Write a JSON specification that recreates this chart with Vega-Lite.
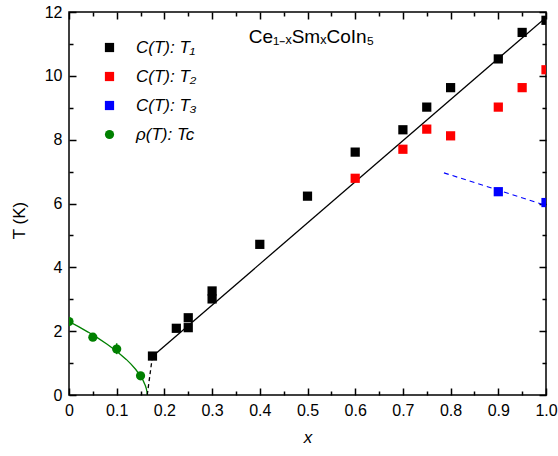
{
  "$schema": "https://vega.github.io/schema/vega-lite/v6.json",
  "width": 477,
  "height": 383,
  "autosize": {"type": "none"},
  "padding": {"left": 69, "top": 12, "right": 12, "bottom": 61},
  "title": {"text": "Ce₁₋ₓSmₓCoIn₅", "font": "Liberation Sans", "fontSize": 19, "fontWeight": "normal", "color": "black", "anchor": "middle", "dx": 4, "dy": 62, "baseline": "alphabetic"},
  "config": {
    "view": {"stroke": "black", "strokeWidth": 1.5},
    "font": "Liberation Sans",
    "axis": {"domain": false, "grid": false, "tickColor": "black", "tickWidth": 1.5, "labelFont": "Liberation Sans", "labelFontSize": 16, "labelColor": "black", "titleFont": "Liberation Sans", "titleFontSize": 17, "titleColor": "black", "titleFontWeight": "normal", "labelFlush": false, "labelOverlap": false}
  },
  "datasets": {
    "pts": [
      {"x": 0.175, "y": 1.22, "series": "C(T): T₁"},
      {"x": 0.225, "y": 2.09, "series": "C(T): T₁"},
      {"x": 0.25, "y": 2.42, "series": "C(T): T₁"},
      {"x": 0.25, "y": 2.11, "series": "C(T): T₁"},
      {"x": 0.3, "y": 3.26, "series": "C(T): T₁"},
      {"x": 0.3, "y": 3.01, "series": "C(T): T₁"},
      {"x": 0.4, "y": 4.72, "series": "C(T): T₁"},
      {"x": 0.5, "y": 6.23, "series": "C(T): T₁"},
      {"x": 0.6, "y": 7.61, "series": "C(T): T₁"},
      {"x": 0.7, "y": 8.31, "series": "C(T): T₁"},
      {"x": 0.75, "y": 9.02, "series": "C(T): T₁"},
      {"x": 0.8, "y": 9.63, "series": "C(T): T₁"},
      {"x": 0.9, "y": 10.53, "series": "C(T): T₁"},
      {"x": 0.95, "y": 11.36, "series": "C(T): T₁"},
      {"x": 1.0, "y": 11.74, "series": "C(T): T₁"},
      {"x": 0.6, "y": 6.79, "series": "C(T): T₂"},
      {"x": 0.7, "y": 7.7, "series": "C(T): T₂"},
      {"x": 0.75, "y": 8.33, "series": "C(T): T₂"},
      {"x": 0.8, "y": 8.12, "series": "C(T): T₂"},
      {"x": 0.9, "y": 9.02, "series": "C(T): T₂"},
      {"x": 0.95, "y": 9.63, "series": "C(T): T₂"},
      {"x": 1.0, "y": 10.19, "series": "C(T): T₂"},
      {"x": 0.9, "y": 6.37, "series": "C(T): T₃"},
      {"x": 1.0, "y": 6.03, "series": "C(T): T₃"},
      {"x": 0.0, "y": 2.3, "series": "ρ(T): Tc"},
      {"x": 0.05, "y": 1.81, "series": "ρ(T): Tc"},
      {"x": 0.1, "y": 1.44, "series": "ρ(T): Tc"},
      {"x": 0.15, "y": 0.6, "series": "ρ(T): Tc"}
    ],
    "lines": [
      {"x": 0.176, "y": 1.22, "line": "fit"},
      {"x": 1.0, "y": 11.83, "line": "fit"},
      {"x": 0.175, "y": 1.22, "line": "dash"},
      {"x": 0.164, "y": 0.0, "line": "dash"},
      {"x": 0.786, "y": 6.96, "line": "blue"},
      {"x": 1.0, "y": 5.94, "line": "blue"},
      {"x": 0.0, "y": 2.3, "line": "green"},
      {"x": 0.02, "y": 2.141, "line": "green"},
      {"x": 0.04, "y": 1.972, "line": "green"},
      {"x": 0.06, "y": 1.79, "line": "green"},
      {"x": 0.08, "y": 1.592, "line": "green"},
      {"x": 0.1, "y": 1.371, "line": "green"},
      {"x": 0.12, "y": 1.116, "line": "green"},
      {"x": 0.13, "y": 0.968, "line": "green"},
      {"x": 0.14, "y": 0.799, "line": "green"},
      {"x": 0.15, "y": 0.594, "line": "green"},
      {"x": 0.155, "y": 0.466, "line": "green"},
      {"x": 0.16, "y": 0.298, "line": "green"},
      {"x": 0.162, "y": 0.204, "line": "green"},
      {"x": 0.1635, "y": 0.095, "line": "green"},
      {"x": 0.164, "y": 0.0, "line": "green"}
    ],
    "err": [
      {"x": 0.1, "lo": 1.28, "hi": 1.62}
    ]
  },
  "resolve": {"axis": {"x": "independent", "y": "independent"}},
  "layer": [
    {
      "data": {"name": "pts"},
      "mark": {"type": "point", "opacity": 0},
      "encoding": {
        "x": {"field": "x", "type": "quantitative", "scale": {"domain": [0, 1], "nice": false},
          "axis": {"orient": "bottom", "values": [0, 0.1, 0.2, 0.3, 0.4, 0.5, 0.6, 0.7, 0.8, 0.9, 1.0], "tickSize": -7, "labelPadding": 14, "labelExpr": "datum.value == 0 ? '0' : format(datum.value, '.1f')", "title": "x", "titleFontStyle": "italic", "titlePadding": 11}},
        "y": {"field": "y", "type": "quantitative", "scale": {"domain": [0, 12], "nice": false},
          "axis": {"orient": "left", "values": [0, 2, 4, 6, 8, 10, 12], "tickSize": -7, "labelPadding": 14, "title": "T (K)", "titlePadding": 16, "titleY": 208}}
      }
    },
    {
      "data": {"name": "pts"},
      "mark": {"type": "point", "opacity": 0},
      "encoding": {
        "x": {"field": "x", "type": "quantitative", "scale": {"domain": [0, 1], "nice": false},
          "axis": {"orient": "bottom", "values": [0.05, 0.15, 0.25, 0.35, 0.45, 0.55, 0.65, 0.75, 0.85, 0.95], "tickSize": -4, "labels": false, "title": null}},
        "y": {"field": "y", "type": "quantitative", "scale": {"domain": [0, 12], "nice": false},
          "axis": {"orient": "left", "values": [1, 3, 5, 7, 9, 11], "tickSize": -4, "labels": false, "title": null}}
      }
    },
    {
      "data": {"name": "pts"},
      "mark": {"type": "point", "opacity": 0},
      "encoding": {
        "x": {"field": "x", "type": "quantitative", "scale": {"domain": [0, 1], "nice": false},
          "axis": {"orient": "top", "values": [0, 0.1, 0.2, 0.3, 0.4, 0.5, 0.6, 0.7, 0.8, 0.9, 1.0], "tickSize": -7, "labels": false, "title": null}},
        "y": {"field": "y", "type": "quantitative", "scale": {"domain": [0, 12], "nice": false},
          "axis": {"orient": "right", "values": [0, 2, 4, 6, 8, 10, 12], "tickSize": -7, "labels": false, "title": null}}
      }
    },
    {
      "data": {"name": "pts"},
      "mark": {"type": "point", "opacity": 0},
      "encoding": {
        "x": {"field": "x", "type": "quantitative", "scale": {"domain": [0, 1], "nice": false},
          "axis": {"orient": "top", "values": [0.05, 0.15, 0.25, 0.35, 0.45, 0.55, 0.65, 0.75, 0.85, 0.95], "tickSize": -4, "labels": false, "title": null}},
        "y": {"field": "y", "type": "quantitative", "scale": {"domain": [0, 12], "nice": false},
          "axis": {"orient": "right", "values": [1, 3, 5, 7, 9, 11], "tickSize": -4, "labels": false, "title": null}}
      }
    },
    {
      "data": {"name": "lines"},
      "transform": [{"filter": "datum.line == 'green'"}],
      "mark": {"type": "line", "color": "#008000", "strokeWidth": 1.3, "clip": true},
      "encoding": {
        "x": {"field": "x", "type": "quantitative", "scale": {"domain": [0, 1], "nice": false}, "axis": null},
        "y": {"field": "y", "type": "quantitative", "scale": {"domain": [0, 12], "nice": false}, "axis": null}
      }
    },
    {
      "data": {"name": "lines"},
      "transform": [{"filter": "datum.line == 'fit'"}],
      "mark": {"type": "line", "color": "black", "strokeWidth": 1.3, "clip": true},
      "encoding": {
        "x": {"field": "x", "type": "quantitative", "scale": {"domain": [0, 1], "nice": false}, "axis": null},
        "y": {"field": "y", "type": "quantitative", "scale": {"domain": [0, 12], "nice": false}, "axis": null}
      }
    },
    {
      "data": {"name": "lines"},
      "transform": [{"filter": "datum.line == 'dash'"}],
      "mark": {"type": "line", "color": "black", "strokeWidth": 1.3, "strokeDash": [4, 3], "clip": true},
      "encoding": {
        "x": {"field": "x", "type": "quantitative", "scale": {"domain": [0, 1], "nice": false}, "axis": null},
        "y": {"field": "y", "type": "quantitative", "scale": {"domain": [0, 12], "nice": false}, "axis": null}
      }
    },
    {
      "data": {"name": "lines"},
      "transform": [{"filter": "datum.line == 'blue'"}],
      "mark": {"type": "line", "color": "#0000FF", "strokeWidth": 1.1, "strokeDash": [5, 4], "clip": true},
      "encoding": {
        "x": {"field": "x", "type": "quantitative", "scale": {"domain": [0, 1], "nice": false}, "axis": null},
        "y": {"field": "y", "type": "quantitative", "scale": {"domain": [0, 12], "nice": false}, "axis": null}
      }
    },
    {
      "data": {"name": "err"},
      "mark": {"type": "rule", "color": "#008000", "strokeWidth": 1.5},
      "encoding": {
        "x": {"field": "x", "type": "quantitative", "scale": {"domain": [0, 1], "nice": false}, "axis": null},
        "y": {"field": "lo", "type": "quantitative", "scale": {"domain": [0, 12], "nice": false}, "axis": null},
        "y2": {"field": "hi"}
      }
    },
    {
      "data": {"name": "pts"},
      "mark": {"type": "point", "filled": true, "opacity": 1, "clip": true},
      "encoding": {
        "x": {"field": "x", "type": "quantitative", "scale": {"domain": [0, 1], "nice": false}, "axis": null},
        "y": {"field": "y", "type": "quantitative", "scale": {"domain": [0, 12], "nice": false}, "axis": null},
        "size": {"field": "series", "type": "nominal",
          "scale": {"domain": ["C(T): T₁", "C(T): T₂", "C(T): T₃", "ρ(T): Tc"], "range": [85, 85, 85, 110]},
          "legend": null},
        "color": {"field": "series", "type": "nominal",
          "scale": {"domain": ["C(T): T₁", "C(T): T₂", "C(T): T₃", "ρ(T): Tc"], "range": ["#000000", "#FF0000", "#0000FF", "#008000"]},
          "legend": {"orient": "none", "legendX": 32, "legendY": 27, "title": null, "padding": 0, "labelFont": "Liberation Sans", "labelFontSize": 17, "labelFontStyle": "italic", "labelColor": "black", "symbolSize": 80, "symbolStrokeWidth": 0, "rowPadding": 11, "labelOffset": 18}},
        "shape": {"field": "series", "type": "nominal",
          "scale": {"domain": ["C(T): T₁", "C(T): T₂", "C(T): T₃", "ρ(T): Tc"], "range": ["square", "square", "square", "circle"]},
          "legend": {"orient": "none", "legendX": 32, "legendY": 27, "title": null, "padding": 0, "labelFont": "Liberation Sans", "labelFontSize": 17, "labelFontStyle": "italic", "labelColor": "black", "symbolSize": 80, "symbolStrokeWidth": 0, "rowPadding": 11, "labelOffset": 18}}
      }
    }
  ]
}
